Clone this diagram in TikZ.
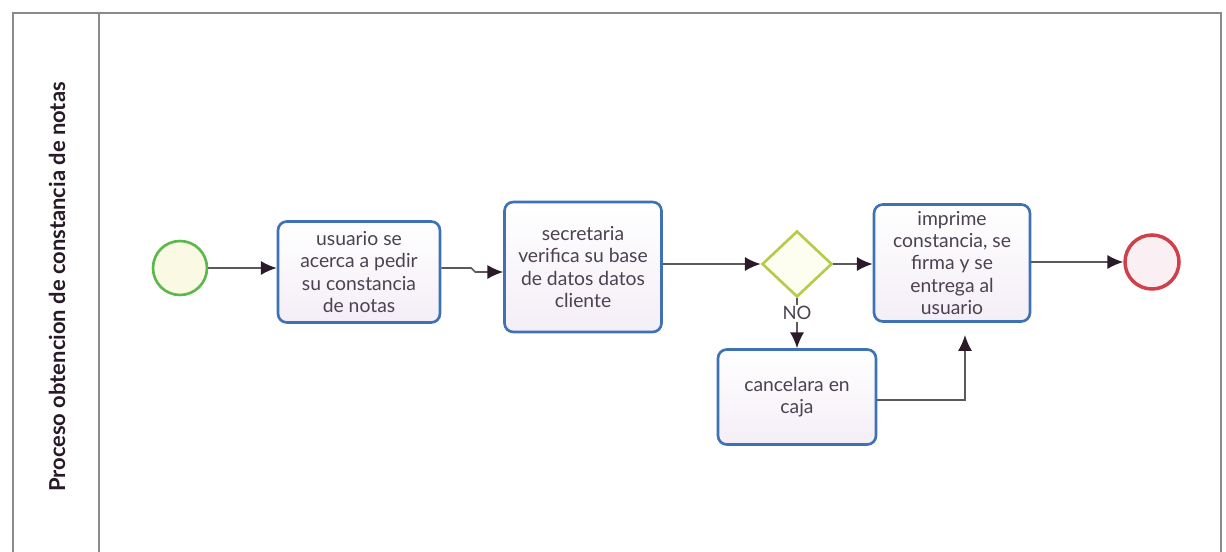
\documentclass[tikz,border=0pt]{standalone}
\usepackage{fontspec}
\setmainfont{Lato}
\usetikzlibrary{shapes.geometric,arrows.meta,calc}
\definecolor{poolgray}{HTML}{8A8A8A}
\definecolor{taskblue}{HTML}{3F72B5}
\definecolor{txt}{HTML}{4B4150}
\definecolor{gwgreen}{HTML}{B5CC4A}
\definecolor{stgreen}{HTML}{5DB84A}
\definecolor{endred}{HTML}{D0404A}
\definecolor{flow}{HTML}{5A5A5A}
\definecolor{tipc}{HTML}{2A1A2A}
\tikzset{
  task/.style={draw=taskblue, line width=1.5pt, rounded corners=5pt,
    top color=white, bottom color={rgb,255:red,244;green,238;blue,246},
    text=txt, font=\fontsize{11}{12.6}\selectfont, align=center, inner sep=1pt},
  flowline/.style={draw=flow, line width=0.9pt, -{Latex[length=9pt,width=8pt,fill=tipc,color=tipc]}},
  evt/.style={circle, line width=1.5pt, inner sep=0pt, minimum size=1.08cm},
}
\begin{document}
\begin{tikzpicture}[x=0.02cm,y=-0.02cm]
\useasboundingbox (0,0) rectangle (1226,551);
\fill[white] (0,0) rectangle (1226,551);
% pool
\begin{scope}
\clip (0,0) rectangle (1226,551);
\draw[poolgray, line width=1.2pt] (13,560) -- (13,13) -- (1221,13) -- (1221,560);
\draw[poolgray, line width=1.2pt] (99,13) -- (99,560);
\end{scope}
\node[rotate=90, font=\bfseries\fontsize{12.5}{14}\selectfont, text={rgb,255:red,40;green,25;blue,40}] (pool) at (57,287) {Proceso obtencion de constancia de notas};
% events
\node[evt, draw=stgreen, fill={rgb,255:red,250;green,250;blue,228}] (start) at (180,268) {};
\node[evt, draw=endred, line width=2pt, fill={rgb,255:red,250;green,240;blue,244}] (end) at (1152,262) {};
% tasks
\node[task, minimum width=3.24cm, minimum height=2.02cm] (t1) at (359,272) {usuario se\\acerca a pedir\\su constancia\\de notas};
\node[task, minimum width=3.14cm, minimum height=2.6cm] (t2) at (583,267) {secretaria\\verifica su base\\de datos datos\\cliente};
\node[task, minimum width=3.12cm, minimum height=2.34cm] (t3) at (952,263) {imprime\\constancia, se\\firma y se\\entrega al\\usuario};
\node[task, minimum width=3.16cm, minimum height=1.9cm] (t4) at (797,397) {cancelara en\\caja};
% gateway
\node[diamond, draw=gwgreen, line width=1.5pt, fill={rgb,255:red,253;green,253;blue,240}, minimum width=1.4cm, minimum height=1.32cm, inner sep=0pt] (gw) at (797,264) {};
% flows
\draw[flowline] (start.east) -- (t1.west |- start.east);
\draw[flowline] (t1.east |- 0,268) -- ++(30,0) -- ++(4,4) -- (t2.west |- 0,272);
\draw[flowline] (t2.east |- gw.west) -- (gw.west);
\draw[flowline] (gw.east) -- (t3.west |- gw.east);
\draw[flowline] (t3.east |- end.west) -- (end.west);
\draw[flowline] (gw.south) -- node[pos=0.3, fill=white, text=txt, font=\fontsize{10.5}{12}\selectfont, inner sep=1pt] (no) {NO} (t4.north);
\draw[flowline, shorten >=7pt] (t4.east |- 0,400) -- (965,400) -- (t3.south -| 965,0);
\end{tikzpicture}
\end{document}
